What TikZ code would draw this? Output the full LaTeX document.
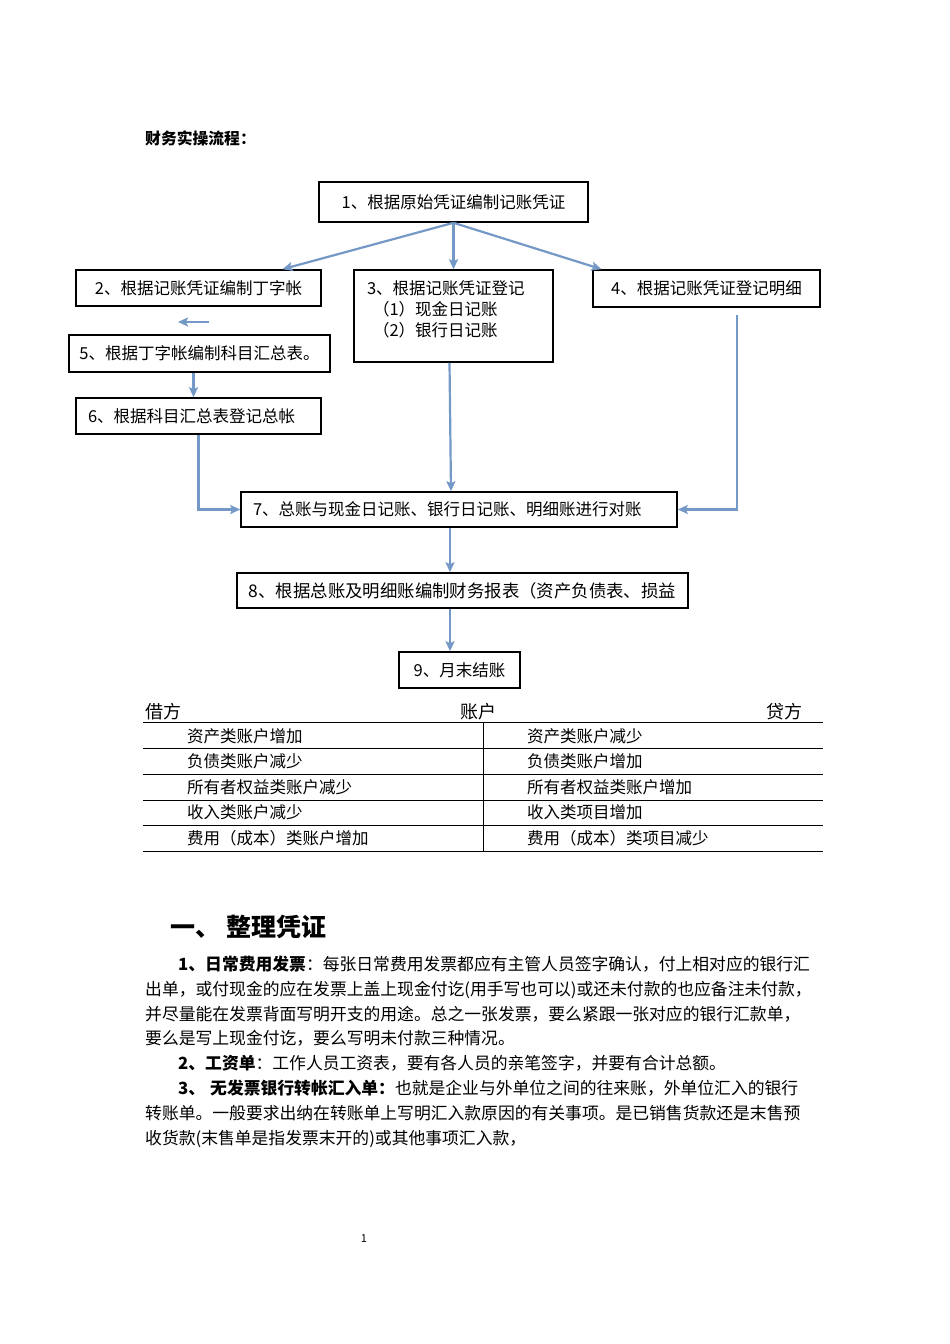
\documentclass[tikz,border=0pt]{standalone}
\usepackage{fontspec}
\setmainfont{Noto Sans CJK SC}
\usetikzlibrary{arrows.meta}
\definecolor{flowblue}{HTML}{7499C6}

\begin{document}
\begin{tikzpicture}[x=1pt, y=-1pt,
    box/.style={draw, line width=1.6pt, inner sep=0pt, font=\fontsize{16.5}{21}\selectfont},
    flow/.style={-{Stealth[length=10pt, width=9pt, inset=2pt]}, line width=2.2pt, color=flowblue},
    cell/.style={anchor=west, inner sep=0pt, font=\fontsize{16.5}{20}\selectfont},
    para/.style={anchor=base west, inner sep=0pt, font=\fontsize{16.8}{20}\selectfont}]
    \useasboundingbox[fill=white] (0,0) rectangle (950,1344);

    % flow chart
    \node[anchor=base west, inner sep=0pt, font=\fontsize{15.8}{18}\selectfont\bfseries] (title) at (145,144) {财务实操流程：};
    \node[box, minimum width=269, minimum height=40] (make) at (453.5,202) {1、根据原始凭证编制记账凭证};
    \node[box, minimum width=245, minimum height=36] (tacc) at (198.5,288) {2、根据记账凭证编制丁字帐};
    \node[box, minimum width=199, minimum height=92] (journal) at (453.5,316) {\parbox[c][86pt][t]{173pt}{\vspace*{8pt}3、根据记账凭证登记\\\hspace*{6pt}（1）现金日记账\\\hspace*{6pt}（2）银行日记账}};
    \node[box, minimum width=227, minimum height=37] (detail) at (706.5,288.5) {4、根据记账凭证登记明细};
    \node[box, minimum width=261, minimum height=37] (summary) at (199.5,353.5) {5、根据丁字帐编制科目汇总表。};
    \node[box, minimum width=245, minimum height=36, text width=221, align=left] (ledger) at (198.5,416) {6、根据科目汇总表登记总帐};
    \node[box, minimum width=436, minimum height=35, text width=412, align=left] (check) at (459,509.5) {7、总账与现金日记账、银行日记账、明细账进行对账};
    \node[box, minimum width=451, minimum height=35, font=\fontsize{17.4}{21}\selectfont] (report) at (462.5,590.5) {8、根据总账及明细账编制财务报表（资产负债表、损益};
    \node[box, minimum width=121, minimum height=36] (close) at (459.5,670) {9、月末结账};

    \coordinate (back1) at (209,322);
    \coordinate (back2) at (178,322);
    \coordinate (dtop) at (737,315);

    \draw[flow] (make.south) -- ([xshift=84]tacc.north);
    \draw[flow] (make.south) -- (journal.north);
    \draw[flow] (make.south) -- ([xshift=-105]detail.north);
    \draw[flow] (back1) -- (back2);
    \draw[flow] ([xshift=-6]summary.south) -- ([xshift=-5]ledger.north);
    \draw[flow] (ledger.south) |- (check.west);
    \draw[flow] ([xshift=-4]journal.south) -- ([xshift=-8]check.north);
    \draw[flow] (dtop) |- (check.east);
    \draw[flow] ([xshift=-9]check.south) -- ([xshift=-12.5]report.north);
    \draw[flow] ([xshift=-12.5]report.south) -- ([xshift=-9.5]close.north);

    % T account table
    \node[anchor=base west, inner sep=0pt, font=\fontsize{18}{20}\selectfont] (debit) at (145,718) {借方};
    \node[anchor=base, inner sep=0pt, font=\fontsize{18}{20}\selectfont] (account) at (478,718) {账户};
    \node[anchor=base east, inner sep=0pt, font=\fontsize{18}{20}\selectfont] (credit) at (803,718) {贷方};
    \foreach \y in {722,748,774,800,825,851}
        \draw[line width=0.9pt] (143,\y) -- (823,\y);
    \draw[line width=0.9pt] (483,722) -- (483,851);
    \node[cell] (d1) at (187,736) {资产类账户增加};
    \node[cell] (d2) at (187,761) {负债类账户减少};
    \node[cell] (d3) at (187,787) {所有者权益类账户减少};
    \node[cell] (d4) at (187,812) {收入类账户减少};
    \node[cell] (d5) at (187,838) {费用（成本）类账户增加};
    \node[cell] (c1) at (527,736) {资产类账户减少};
    \node[cell] (c2) at (527,761) {负债类账户增加};
    \node[cell] (c3) at (527,787) {所有者权益类账户增加};
    \node[cell] (c4) at (527,812) {收入类项目增加};
    \node[cell] (c5) at (527,838) {费用（成本）类项目减少};

    % text
    \node[anchor=base west, inner sep=0pt, font=\fontsize{25}{28}\selectfont\bfseries] (sec) at (170,936.5) {一、\hspace{6pt}整理凭证};
    \node[para] (p1) at (178,970) {\textbf{1、日常费用发票}：每张日常费用发票都应有主管人员签字确认，付上相对应的银行汇};
    \node[para] (p2) at (145,995) {出单，或付现金的应在发票上盖上现金付讫(用手写也可以)或还未付款的也应备注未付款，};
    \node[para] (p3) at (145,1020) {并尽量能在发票背面写明开支的用途。总之一张发票，要么紧跟一张对应的银行汇款单，};
    \node[para] (p4) at (145,1044) {要么是写上现金付讫，要么写明未付款三种情况。};
    \node[para] (p5) at (178,1069) {\textbf{2、工资单}：工作人员工资表，要有各人员的亲笔签字，并要有合计总额。};
    \node[para] (p6) at (178,1094) {\textbf{3、\hspace{5pt}无发票银行转帐汇入单：}也就是企业与外单位之间的往来账，外单位汇入的银行};
    \node[para] (p7) at (145,1119) {转账单。一般要求出纳在转账单上写明汇入款原因的有关事项。是已销售货款还是末售预};
    \node[para] (p8) at (145,1144) {收货款(末售单是指发票末开的)或其他事项汇入款，};
    \node[anchor=base, inner sep=0pt, font=\fontsize{11}{12}\selectfont] (page) at (364,1242) {1};
\end{tikzpicture}
\end{document}
